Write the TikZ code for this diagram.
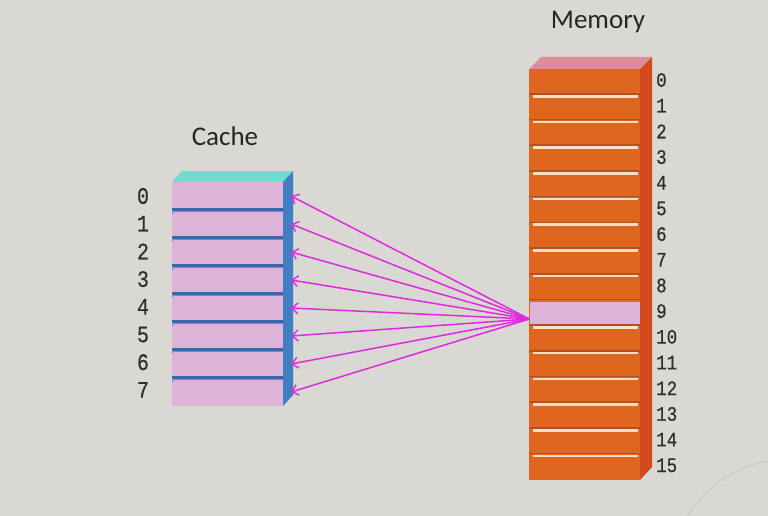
\documentclass[tikz,border=0pt]{standalone}
\usepackage{fontspec}
\usetikzlibrary{arrows.meta}
\newfontfamily\monof[FakeBold=0.6]{Liberation Mono}
\newfontfamily\titlef{Carlito}
\definecolor{bgc}{HTML}{D9D8D3}
\definecolor{pinkrow}{HTML}{DDB3D8}
\definecolor{ctop}{HTML}{70DCCF}
\definecolor{cside}{HTML}{3F7FC2}
\definecolor{csep}{HTML}{3A67A6}
\definecolor{csepl}{HTML}{5A9AD8}
\definecolor{mfront}{HTML}{DE661F}
\definecolor{mtop}{HTML}{DE8E98}
\definecolor{mside}{HTML}{D24A1E}
\definecolor{msep}{HTML}{B4501E}
\definecolor{mwhite}{HTML}{F8E0C8}
\definecolor{arrc}{HTML}{E02AE0}
\definecolor{txtc}{HTML}{2E2E2E}
\definecolor{sealc}{HTML}{C6C6C2}
\tikzset{
  cacherow/.style={rectangle, fill=pinkrow, minimum width=111pt, minimum height=28pt, inner sep=0pt, outer sep=0pt},
  memrow/.style={rectangle, minimum width=111pt, minimum height=25.6875pt, inner sep=0pt, outer sep=0pt},
  hitrow/.style={rectangle, fill=pinkrow, minimum width=110pt, minimum height=22pt, inner sep=0pt},
  clabel/.style={font=\monof\fontsize{20}{20}\selectfont, text=txtc, inner sep=0pt},
  mlabel/.style={font=\monof\fontsize{17.5}{17.5}\selectfont, text=txtc, inner sep=0pt, anchor=west},
  titlelab/.style={font=\titlef\fontsize{27}{27}\selectfont, text=black!85, inner sep=0pt},
  arr/.style={arrc, line width=1.5pt, -{Straight Barb[length=6pt,width=11pt,line width=1.4pt]}},
}
\newcommand{\tallnum}[1]{\scalebox{1}[1.18]{#1}}
\begin{document}
\begin{tikzpicture}[x=1pt,y=-1pt]
\fill[bgc] (0,0) rectangle (768,516);
\useasboundingbox (0,0) rectangle (768,516);
% faint seal
\draw[sealc, line width=0.9pt] (790,580) circle[radius=121];
% ---------- Cache ----------
\node[titlelab] (ctitle) at (225,136) {Cache};
\fill[ctop] (172,182) -- (182,171) -- (293,171) -- (283,182) -- cycle;
\fill[cside] (283,182) -- (293,171) -- (293,395) -- (283,406) -- cycle;
\foreach \i in {0,...,7}{
  \node[cacherow] (c\i) at (227.5,{196+28*\i}) {};
  \node[clabel] (cl\i) at (143,{196+27.7*\i}) {\tallnum{\i}};
}
\foreach \k in {1,...,7}{
  \draw[csepl, line width=1.4pt] (172,{182+28*\k+1.4}) -- (283,{182+28*\k+1.4});
  \draw[csep, line width=2.8pt] (172,{182+28*\k-0.6}) -- (283,{182+28*\k-0.6});
  \draw[csepl, line width=1.2pt] (172.6,{182+28*\k}) -- (172.6,{182+28*\k+4});
}
% ---------- Memory ----------
\node[titlelab] (mtitle) at (598,22) {Memory};
\fill[mtop] (529,69) -- (541,57) -- (652,57) -- (640,69) -- cycle;
\fill[mside] (640,69) -- (652,57) -- (652,467) -- (640,480) -- cycle;
\fill[mfront] (529,69) rectangle (640,480);
\foreach \i in {0,...,15}{
  \node[memrow] (m\i) at (584.5,{69+25.6875*(\i+0.5)}) {};
  \node[mlabel] (ml\i) at (656,{80+25.6875*\i}) {\tallnum{\i}};
}
\foreach \k in {1,...,15}{
  \draw[msep, line width=1.6pt] (529,{69+25.6875*\k-0.8}) -- (640,{69+25.6875*\k-0.8});
}
\foreach \k in {1,2,3,4,5,6,7,8,10,11,12,13,14,15}{
  \draw[mwhite, line width=2.6pt] (533,{69+25.6875*\k+1.6}) -- (638,{69+25.6875*\k+1.6});
}
\node[hitrow] (hit) at (m9) {};
% ---------- Arrows ----------
\coordinate (src) at ([yshift=-6pt]hit.west);
\foreach \i in {0,...,7}{
  \draw[arr] (src) -- ([xshift=8pt]c\i.east);
}
\end{tikzpicture}
\end{document}
